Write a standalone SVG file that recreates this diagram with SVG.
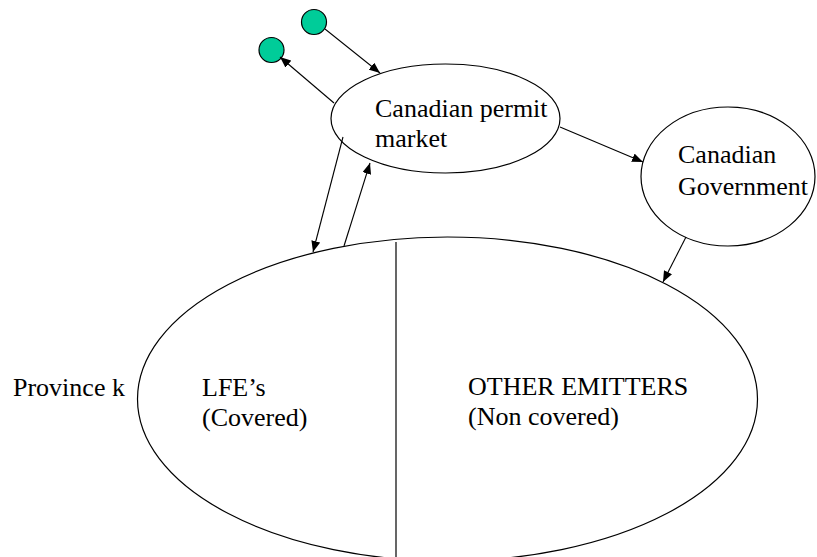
<svg xmlns="http://www.w3.org/2000/svg" width="817" height="557" viewBox="0 0 817 557">
<style>
.shape{fill:#fff;stroke:#000;stroke-width:1.2}
.dot{fill:#00CC99;stroke:#000;stroke-width:1.2}
.conn{stroke:#000;stroke-width:1.1;fill:none;marker-end:url(#ah)}
text{font-family:'Liberation Serif','Times New Roman','DejaVu Serif',serif;font-size:26px;fill:#000}
</style>
<defs>
<marker id="ah" markerUnits="userSpaceOnUse" markerWidth="11" markerHeight="9" refX="11" refY="4.5" orient="auto">
<path d="M0,0 L11,4.5 L0,9 z" fill="#000"/>
</marker>
</defs>
<rect width="817" height="557" fill="#fff"/>
<g id="province" font-family="Liberation Serif, serif">
<ellipse class="shape" cx="447.5" cy="399" rx="310" ry="162"/>
<line x1="396" y1="242" x2="396" y2="557" stroke="#000" stroke-width="1.2"/>
<text x="13" y="396">Province k</text>
<text x="202" y="396">LFE’s</text>
<text x="202" y="426">(Covered)</text>
<text x="468" y="395">OTHER EMITTERS</text>
<text x="468" y="425">(Non covered)</text>
</g>
<g id="permit-market" font-family="Liberation Serif, serif">
<ellipse class="shape" cx="445.5" cy="118.5" rx="114.5" ry="54.5"/>
<text x="375" y="117">Canadian permit</text>
<text x="375" y="147">market</text>
</g>
<g id="government" font-family="Liberation Serif, serif">
<ellipse class="shape" cx="728" cy="176.5" rx="87" ry="69.5"/>
<text x="678" y="163">Canadian</text>
<text x="678" y="195">Government</text>
</g>
<g id="source-dot">
<circle class="dot" cx="314" cy="22" r="12.5"/>
</g>
<g id="sink-dot">
<circle class="dot" cx="271.5" cy="50" r="12.5"/>
</g>
<g id="connectors">
<line class="conn" x1="325" y1="29" x2="380" y2="73"/>
<line class="conn" x1="334" y1="103" x2="280" y2="57"/>
<line class="conn" x1="343" y1="137" x2="313" y2="252"/>
<line class="conn" x1="344" y1="246" x2="370" y2="163"/>
<line class="conn" x1="560" y1="127" x2="643" y2="162"/>
<line class="conn" x1="686" y1="237" x2="663" y2="282"/>
</g>
</svg>
